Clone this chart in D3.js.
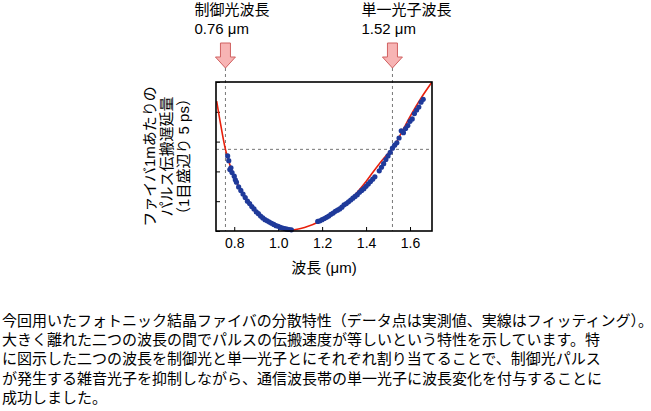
<!DOCTYPE html><html><head><meta charset="utf-8"><script src="https://cdn.jsdelivr.net/npm/d3@7"></script>
<style>body{margin:0;background:#fff}</style></head><body><svg id="c" width="651" height="411"></svg>
<script>
const fitX=[0.72,0.74,0.76,0.78,0.8,0.85,0.9,0.95,1.0,1.06,1.12,1.2,1.25,1.3,1.35,1.4,1.45,1.5,1.52,1.55,1.6,1.65,1.7];
const fitY=[21.8,17.5,13.7,11.1,9.0,5.6,3.0,1.6,0.7,0.2,0.6,1.8,3.0,4.3,6.1,8.3,10.8,13.0,13.7,15.7,19.2,22.3,25.0];
const dotX=[0.77,0.775,0.78,0.785,0.79,0.8,0.805,0.81,0.82,0.83,0.84,0.85,0.86,0.87,0.88,0.89,0.9,0.91,0.92,0.93,0.94,0.95,0.96,0.97,0.98,0.99,1.0,1.01,1.02,1.03,1.04,1.05,1.06,1.18,1.19,1.2,1.21,1.22,1.23,1.24,1.25,1.26,1.27,1.28,1.29,1.3,1.31,1.32,1.33,1.34,1.35,1.36,1.37,1.38,1.39,1.4,1.41,1.42,1.43,1.44,1.46,1.47,1.48,1.49,1.5,1.51,1.52,1.53,1.54,1.55,1.56,1.57,1.58,1.59,1.6,1.61,1.62,1.63,1.64,1.65,1.66];
const dotY=[12.6,11.8,10.3,10.6,9.8,9.2,8.6,8.2,7.4,6.8,6.2,5.6,5.0,4.6,4.1,3.7,3.2,2.9,2.5,2.2,1.9,1.7,1.5,1.3,1.1,0.9,0.8,0.6,0.5,0.4,0.3,0.25,0.2,1.6,1.7,1.9,2.1,2.3,2.5,2.8,3.0,3.3,3.5,3.7,4.0,4.4,4.6,4.9,5.2,5.5,5.8,6.1,6.5,6.8,7.1,7.5,7.9,8.3,8.7,9.1,10.1,10.7,11.3,12.0,12.6,13.2,13.9,14.4,14.8,15.6,16.8,16.5,17.2,17.7,18.4,18.8,19.7,20.3,20.8,21.6,22.1];
const xTicks=[0.8,1.0,1.2,1.4,1.6];
const yTicks=[0,5,10,15,20,25];
const marks=[0.76,1.52];
const markLabels=[["制御光波長","0.76 μm"],["単一光子波長","1.52 μm"]];
const hLine=13.7;
const caption=["今回用いたフォトニック結晶ファイバの分散特性（データ点は実測値、実線はフィッティング）。","大きく離れた二つの波長の間でパルスの伝搬速度が等しいという特性を示しています。特","に図示した二つの波長を制御光と単一光子とにそれぞれ割り当てることで、制御光パルス","が発生する雑音光子を抑制しながら、通信波長帯の単一光子に波長変化を付与することに","成功しました。"];
const yLabel=["ファイバ1mあたりの","パルス伝搬遅延量","（1目盛辺り 5 ps）"];

const svg=d3.select("#c"),F="Liberation Sans, Noto Sans CJK JP, sans-serif";
const L=216,R=432,T=82,B=231;
const x=d3.scaleLinear().domain([0.717,1.70]).range([L,R]);
const y=d3.scaleLinear().domain([0,25]).range([B,T]);
const g=svg.append("g");
g.append("g").attr("transform",`translate(0,${B})`).call(d3.axisBottom(x).tickValues(xTicks).tickFormat(d3.format(".1f")).tickSize(-4).tickPadding(7))
 .call(a=>{a.select(".domain").remove();a.selectAll("text").attr("font-size",14).attr("font-family",F).attr("fill","#000");});
g.append("g").attr("transform",`translate(${L},0)`).call(d3.axisLeft(y).tickValues(yTicks).tickFormat("").tickSize(-4))
 .call(a=>a.select(".domain").remove());
marks.forEach(m=>g.append("line").attr("x1",x(m)).attr("x2",x(m)).attr("y1",68).attr("y2",B).attr("stroke","#777").attr("stroke-dasharray","3,3"));
g.append("line").attr("x1",L).attr("x2",R).attr("y1",y(hLine)).attr("y2",y(hLine)).attr("stroke","#777").attr("stroke-dasharray","3,3");
svg.append("clipPath").attr("id","cp").append("rect").attr("x",L).attr("y",T).attr("width",R-L).attr("height",B-T);
g.append("path").datum(fitX.map((v,i)=>[v,fitY[i]])).attr("clip-path","url(#cp)").attr("fill","none").attr("stroke","#e8200c").attr("stroke-width",1.6)
 .attr("d",d3.line().x(d=>x(d[0])).y(d=>y(d[1])).curve(d3.curveCatmullRom));
g.selectAll("circle").data(dotX.map((v,i)=>[v,dotY[i]])).join("circle").attr("cx",d=>x(d[0])).attr("cy",d=>y(d[1])).attr("r",2.6).attr("fill","#1f3a9a");
g.append("rect").attr("x",L).attr("y",T).attr("width",R-L).attr("height",B-T).attr("fill","none").attr("stroke","#000").attr("stroke-width",1.6);
svg.append("text").attr("x",(L+R)/2).attr("y",273).attr("text-anchor","middle").attr("font-size",15).attr("font-family",F).text("波長 (μm)");
yLabel.forEach((t,i)=>svg.append("text").attr("transform",`translate(${155+i*17},${(T+B)/2}) rotate(-90)`).attr("text-anchor","middle").attr("font-size",15).attr("font-family",F).text(t));
marks.forEach((m,i)=>{const cx=x(m);
 svg.append("path").attr("d",`M${cx-5},43 h10 v14 h5 l-10,11 l-10,-11 h5 z`).attr("fill","#f7b4b4").attr("stroke","#d06060").attr("stroke-width",1);
 svg.append("text").attr("x",cx-31).attr("y",15).attr("font-size",15).attr("font-family",F).text(markLabels[i][0]);
 svg.append("text").attr("x",cx-31).attr("y",34).attr("font-size",15).attr("font-family",F).text(markLabels[i][1]);});
caption.forEach((t,i)=>svg.append("text").attr("x",2).attr("y",326+i*19.2).attr("font-size",15).attr("font-family",F).text(t));
</script></body></html>
